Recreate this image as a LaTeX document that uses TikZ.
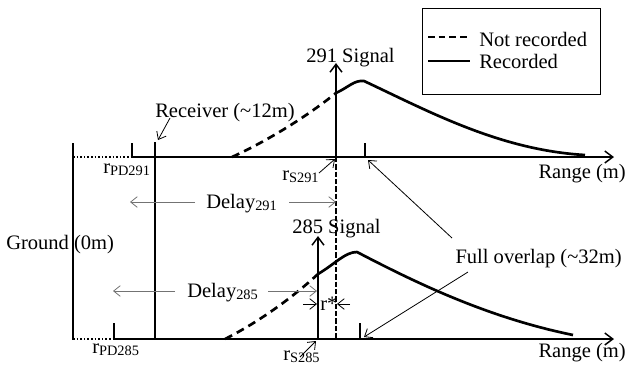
\documentclass[tikz,border=0pt]{standalone}
\usepackage{fontspec}
\setmainfont{Liberation Serif}
\usetikzlibrary{arrows.meta}
\begin{document}
\begin{tikzpicture}[x=0.75pt,y=-0.75pt,
  axis/.style={line width=1.5pt,-{Straight Barb[length=6pt,width=9pt,line width=1.1pt]}},
  thick line/.style={line width=1.5pt},
  curve/.style={line width=2pt},
  dcurve/.style={line width=2pt,dash pattern=on 6pt off 4pt},
  vdash/.style={line width=1.1pt,dash pattern=on 4pt off 1.5pt},
  dotline/.style={line width=1.2pt,dash pattern=on 1.2pt off 1.5pt},
  thinarrow/.style={line width=0.6pt,-{Straight Barb[length=5pt,width=8pt,line width=0.6pt]}},
  grayarrow/.style={thinarrow,draw=black!55},
  lbl/.style={inner sep=0pt,anchor=base west,font=\fontsize{15.4pt}{18pt}\selectfont},
  rlbl/.style={lbl,anchor=base east},
]
\useasboundingbox (0,0) rectangle (629,369);

% ---- coordinates
\coordinate (g1) at (73,143); \coordinate (g2) at (73,340);
\coordinate (d1a) at (73,157); \coordinate (t0) at (132,157); \coordinate (t0top) at (132,143);
\coordinate (tend) at (614,157);
\coordinate (rc1) at (155,142); \coordinate (rc2) at (155,339);
\coordinate (d2a) at (73,339); \coordinate (b0) at (114,339); \coordinate (b0top) at (114,323);
\coordinate (bend) at (614,339);
\coordinate (s291) at (336,157); \coordinate (s291top) at (336,63); \coordinate (s291bot) at (336,339);
\coordinate (fo1) at (365,157); \coordinate (fo1top) at (365,143);
\coordinate (s285) at (318,339); \coordinate (s285top) at (318,236);
\coordinate (fo2) at (360,339); \coordinate (fo2top) at (360,323);

% ---- labels
\node[lbl] (sig291) at (306,62) {291 Signal};
\node[lbl] (sig285) at (292,233) {285 Signal};
\node[lbl] (recv) at (155,117) {Receiver (\textasciitilde 12m)};
\node[lbl] (rpd291) at (103,173) {r\textsubscript{PD291}};
\node[lbl] (rs291) at (282,180) {r\textsubscript{S291}};
\node[lbl] (del291) at (206,208) {Delay\textsubscript{291}};
\node[lbl] (del285) at (187,297) {Delay\textsubscript{285}};
\node[lbl] (ground) at (6,249) {Ground (0m)};
\node[lbl] (rstar) at (320,310) {r*};
\node[rlbl] (fo) at (622,263) {Full overlap (\textasciitilde 32m)};
\node[rlbl] (range1) at (626,178) {Range (m)};
\node[rlbl] (range2) at (626,357) {Range (m)};
\node[lbl] (rpd285) at (92,353) {r\textsubscript{PD285}};
\node[lbl] (rs285) at (283,360) {r\textsubscript{S285}};

% ---- ground and axes
\draw[thick line] (g1) -- (g2);
\draw[dotline] (d1a) -- (t0);
\draw[dotline] (d2a) -- (b0);
\draw[thick line] (t0top) -- (t0);
\draw[axis] (t0) -- (tend);
\draw[thick line] (b0top) -- (b0);
\draw[axis] (b0) -- (bend);
\draw[thick line] (rc1) -- (rc2);
\draw[thick line] (fo1top) -- (fo1);
\draw[thick line] (fo2top) -- (fo2);
\draw[vdash] (s291) -- (s291bot);
\draw[axis] (s291) -- (s291top);
\draw[axis] (s285) -- (s285top);

% ---- signal curves
\coordinate (c1s) at (232,157); \coordinate (c1m) at (336,93); \coordinate (c1p) at (364,81); \coordinate (c1e) at (585,155);
\draw[dcurve] (c1s) .. controls (265,142) and (305,118) .. (c1m);
\draw[curve,line join=round] (c1m) .. controls (349,87) and (354,80) .. (c1p)
   .. controls (430,112) and (500,150) .. (c1e);
\coordinate (c2s) at (225,339); \coordinate (c2m) at (318,274); \coordinate (c2p) at (357,252); \coordinate (c2e) at (573,335);
\draw[dcurve] (c2s) .. controls (255,324) and (290,300) .. (c2m);
\draw[curve,line join=round] (c2m) .. controls (335,264) and (345,252) .. (c2p)
   .. controls (420,285) and (490,318) .. (c2e);

% ---- annotation arrows
\coordinate (a1) at (195,202); \coordinate (a1e) at (130,202);
\coordinate (a2) at (289,202); \coordinate (a2e) at (336,202);
\coordinate (a3) at (175,291); \coordinate (a3e) at (113,291);
\coordinate (a4) at (268,291); \coordinate (a4e) at (317,291);
\coordinate (a5) at (303,304); \coordinate (a5e) at (317,304);
\coordinate (a6) at (350,304); \coordinate (a6e) at (337,304);
\coordinate (a7) at (452,238); \coordinate (a7e) at (368,160);
\coordinate (a8) at (468,272); \coordinate (a8e) at (364,337);
\coordinate (a9) at (170,118); \coordinate (a9e) at (158,140);
\coordinate (a10) at (319,173); \coordinate (a10e) at (335,159);
\coordinate (a11) at (300,357); \coordinate (a11e) at (316,341);
\draw[grayarrow] (a1) -- (a1e);
\draw[grayarrow] (a2) -- (a2e);
\draw[grayarrow] (a3) -- (a3e);
\draw[grayarrow] (a4) -- (a4e);
\draw[thinarrow] (a5) -- (a5e);
\draw[thinarrow] (a6) -- (a6e);
\draw[thinarrow] (a7) -- (a7e);
\draw[thinarrow] (a8) -- (a8e);
\draw[thinarrow] (a9) -- (a9e);
\draw[thinarrow] (a10) -- (a10e);
\draw[thinarrow] (a11) -- (a11e);

% ---- legend
\node[draw,line width=0.8pt,inner sep=0pt,minimum width=178*0.75pt,minimum height=86*0.75pt,anchor=north west] (legend) at (422,8) {};
\coordinate (l1a) at (428,37); \coordinate (l1b) at (470,37);
\coordinate (l2a) at (428,61); \coordinate (l2b) at (470,61);
\draw[line width=1.5pt,dash pattern=on 5pt off 3pt] (l1a) -- (l1b);
\draw[line width=1.5pt] (l2a) -- (l2b);
\node[lbl] (lnr) at (479,46) {Not recorded};
\node[lbl] (lr) at (479,68) {Recorded};
\end{tikzpicture}
\end{document}
